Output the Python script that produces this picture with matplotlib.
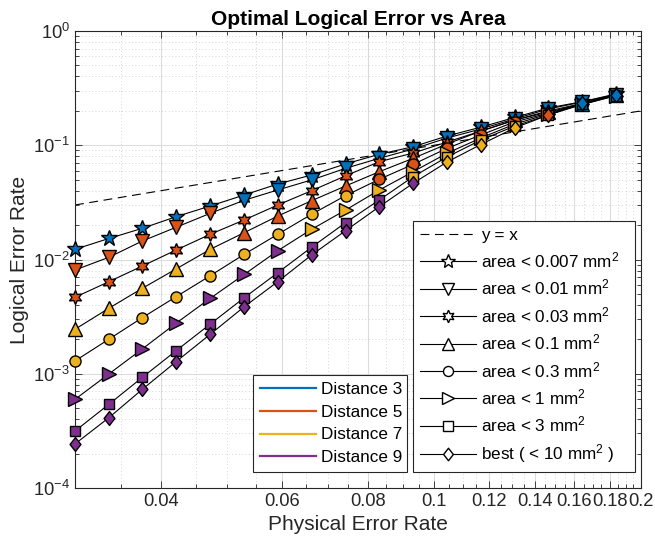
import numpy as np
import matplotlib
matplotlib.use('Agg')
import matplotlib.pyplot as plt
from matplotlib.lines import Line2D
from matplotlib.path import Path
from matplotlib.ticker import FixedLocator, LogLocator, NullFormatter

plt.rcParams['font.family'] = ['Liberation Sans', 'DejaVu Sans']
plt.rcParams['mathtext.fontset'] = 'custom'
plt.rcParams['mathtext.rm'] = 'Liberation Sans'
plt.rcParams['mathtext.it'] = 'Liberation Sans:italic'
plt.rcParams['mathtext.bf'] = 'Liberation Sans:bold'

# physical error rates (x)
phys_err = [0.0300, 0.0336, 0.0376, 0.0421, 0.0472, 0.0529, 0.0592, 0.0663, 0.0743,
            0.0832, 0.0932, 0.1044, 0.1169, 0.1309, 0.1466, 0.1642, 0.1839]

# logical error rate per area budget
err_007 = [0.01228, 0.01527, 0.01875, 0.0237, 0.0294, 0.0367, 0.0458, 0.0549, 0.0686,
           0.0834, 0.0971, 0.1205, 0.1439, 0.175, 0.212, 0.2405, 0.281]
err_01 = [0.00809, 0.01045, 0.01452, 0.01914, 0.02535, 0.0330, 0.0406, 0.0497, 0.0628,
          0.0769, 0.0927, 0.1157, 0.1387, 0.170, 0.2077, 0.239, 0.278]
err_03 = [0.00467, 0.00639, 0.00877, 0.0121, 0.01662, 0.0222, 0.0300, 0.0400, 0.0540,
          0.0718, 0.0855, 0.1067, 0.133, 0.166, 0.1995, 0.232, 0.275]
err_1 = [0.00245, 0.00374, 0.0056, 0.00826, 0.01228, 0.01718, 0.0240, 0.0327, 0.0440,
         0.0587, 0.0769, 0.1025, 0.133, 0.166, 0.195, 0.230, 0.275]
err_3 = [0.001294, 0.002004, 0.0031, 0.00472, 0.00721, 0.0111, 0.01662, 0.0249, 0.0362,
         0.0504, 0.0681, 0.094, 0.123, 0.160, 0.191, 0.230, 0.275]
err_10 = [0.000597, 0.000995, 0.00165, 0.00277, 0.00457, 0.0074, 0.01194, 0.01837, 0.0271,
          0.0406, 0.0587, 0.0851, 0.1157, 0.153, 0.188, 0.2275, 0.272]
err_30 = [0.000315, 0.00054, 0.00093, 0.00159, 0.00272, 0.00463, 0.00766, 0.0128, 0.0210,
          0.0332, 0.0531, 0.0789, 0.111, 0.147, 0.184, 0.2275, 0.272]
err_best = [0.000243, 0.000412, 0.000731, 0.001275, 0.002214, 0.00386, 0.0064, 0.01095, 0.01787,
            0.029, 0.0465, 0.0713, 0.1015, 0.1416, 0.184, 0.232, 0.275]

# code distance chosen at each point
dist_007 = [3, 3, 3, 3, 3, 3, 3, 3, 3, 3, 3, 3, 3, 3, 3, 3, 3]
dist_01 = [5, 5, 5, 5, 5, 3, 3, 3, 3, 3, 3, 3, 3, 3, 3, 3, 3]
dist_03 = [5, 5, 5, 5, 5, 5, 5, 5, 5, 5, 5, 5, 5, 5, 5, 3, 3]
dist_1 = [7, 7, 7, 7, 7, 5, 5, 5, 5, 5, 5, 5, 5, 5, 5, 3, 3]
dist_3 = [7, 7, 7, 7, 7, 7, 7, 7, 7, 5, 5, 5, 5, 5, 5, 3, 3]
dist_10 = [9, 9, 9, 9, 9, 9, 9, 7, 7, 7, 7, 7, 5, 5, 5, 3, 3]
dist_30 = [9, 9, 9, 9, 9, 9, 9, 9, 9, 9, 7, 7, 7, 7, 5, 3, 3]
dist_best = [9, 9, 9, 9, 9, 9, 9, 9, 9, 9, 9, 7, 7, 7, 5, 3, 3]

area_labels = ['area < 0.007 mm$^2$', 'area < 0.01 mm$^2$', 'area < 0.03 mm$^2$',
               'area < 0.1 mm$^2$', 'area < 0.3 mm$^2$', 'area < 1 mm$^2$',
               'area < 3 mm$^2$', 'best ( < 10 mm$^2$ )']
distances = [3, 5, 7, 9]
xtick_vals = [0.04, 0.06, 0.08, 0.1, 0.12, 0.14, 0.16, 0.18, 0.2]
xtick_labels = ['0.04', '0.06', '0.08', '0.1', '0.12', '0.14', '0.16', '0.18', '0.2']

colors = {3: '#0072BD', 5: '#D95319', 7: '#EDB120', 9: '#7E2F8E'}

diamond = Path([(0, 1), (0.78, 0), (0, -1), (-0.78, 0), (0, 1)],
               [Path.MOVETO, Path.LINETO, Path.LINETO, Path.LINETO, Path.CLOSEPOLY])
hexagram = (6, 1, 0)
markers = [('*', 12), ('v', 10), (hexagram, 10), ('^', 10), ('o', 8), ('>', 10), ('s', 7.5), (diamond, 10)]

series = [(err_007, dist_007), (err_01, dist_01), (err_03, dist_03), (err_1, dist_1),
          (err_3, dist_3), (err_10, dist_10), (err_30, dist_30), (err_best, dist_best)]

fig = plt.figure(figsize=(6.55, 5.5), dpi=100)
ax = fig.add_axes([75 / 655, 1 - 488 / 550, 566 / 655, 457 / 550])

ax.plot([0.03, 0.2], [0.03, 0.2], '--', color='black', lw=0.8, dashes=(8, 5), zorder=2)

for (vals, dists), (mk, ms) in zip(series, markers):
    ax.plot(phys_err, vals, '-', color='black', lw=0.8, zorder=3)
    for x, y, d in zip(phys_err, vals, dists):
        ax.plot(x, y, marker=mk, ms=ms, mfc=colors[d], mec='black', mew=1.0, ls='none',
                zorder=4, clip_on=False)

ax.set_xscale('log')
ax.set_yscale('log')
ax.set_xlim(0.03, 0.2)
ax.set_ylim(1e-4, 1)

ax.xaxis.set_major_locator(FixedLocator(xtick_vals))
ax.set_xticklabels(xtick_labels)
minor_x = [round(v, 3) for v in np.arange(0.03, 0.2001, 0.005) if round(v, 3) not in xtick_vals]
ax.xaxis.set_minor_locator(FixedLocator(minor_x))
ax.xaxis.set_minor_formatter(NullFormatter())
ax.yaxis.set_major_locator(LogLocator(base=10, numticks=10))
ax.yaxis.set_minor_locator(LogLocator(base=10, subs=np.arange(2, 10), numticks=10))
ax.yaxis.set_minor_formatter(NullFormatter())

ax.grid(True, which='major', color='#dcdcdc', lw=0.8, ls='-')
ax.grid(True, which='minor', color='#c8c8c8', lw=0.6, ls=(0, (1, 3)))
ax.set_axisbelow(True)

ax.tick_params(which='both', direction='in', top=True, right=True, colors='#262626', labelsize=13.2)
ax.tick_params(which='major', length=5, width=0.6)
ax.tick_params(which='minor', length=3, width=0.6)
for sp in ax.spines.values():
    sp.set_color('#262626')
    sp.set_linewidth(0.8)

ax.set_title('Optimal Logical Error vs Area', fontsize=15, fontweight='bold', pad=4)
ax.set_xlabel('Physical Error Rate', fontsize=15, color='#262626', labelpad=4)
ax.set_ylabel('Logical Error Rate', fontsize=15, color='#262626', labelpad=3)

# legend for code distance colours
dist_handles = [Line2D([], [], color=colors[d], lw=1.6) for d in distances]
leg1 = ax.legend(dist_handles, ['Distance %d' % d for d in distances], loc='lower left',
                 bbox_to_anchor=(0.3145, 0.035, 0.272, 0.2), mode='expand',
                 fontsize=12.3, frameon=True, fancybox=False,
                 edgecolor='#262626', framealpha=1, handlelength=3.3, handletextpad=0.3,
                 labelspacing=0.45, borderpad=0.4, borderaxespad=0)
leg1.get_frame().set_linewidth(0.8)
ax.add_artist(leg1)

# legend for area budgets
area_handles = [Line2D([], [], color='black', ls='--', dashes=(8, 5), lw=0.8)]
for mk, ms in markers:
    area_handles.append(Line2D([], [], color='black', lw=0.8, marker=mk, ms=ms * 0.9,
                               mfc='white', mec='black', mew=1.0))
leg2 = ax.legend(area_handles, ['y = x'] + area_labels, loc='lower left',
                 bbox_to_anchor=(0.597, 0.035, 0.392, 0.5), mode='expand',
                 fontsize=12.3, frameon=True, fancybox=False,
                 edgecolor='#262626', framealpha=1, handlelength=3.3, handletextpad=0.3,
                 labelspacing=0.44, borderpad=0.4, borderaxespad=0)
leg2.get_frame().set_linewidth(0.8)

fig.savefig('out.png', dpi=100)
